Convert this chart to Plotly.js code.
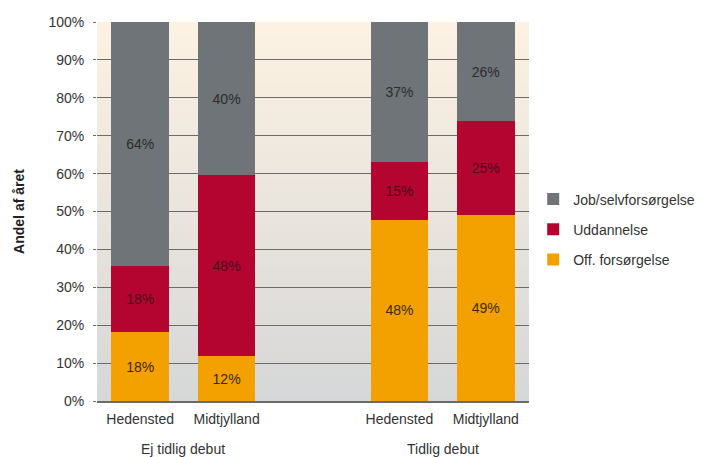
<!DOCTYPE html>
<html>
<head>
<meta charset="utf-8">
<script src="https://cdn.plot.ly/plotly-3.0.1.min.js"></script>
<style>html,body{margin:0;padding:0;background:#fff;}#chart{width:710px;height:457px;}</style>
</head>
<body>
<div id="chart"></div>
<script>
const positions = [0, 1, 3, 4];
const barLabels = ['Hedensted', 'Midtjylland', 'Hedensted', 'Midtjylland'];
const groupLabels = ['Ej tidlig debut', 'Tidlig debut'];
const offForsorgelse = [18.1, 11.8, 47.8, 49.2];
const uddannelse = [17.5, 47.8, 15.2, 24.6];
const jobSelv = [64.4, 40.4, 37.0, 26.2];
const textOff = ['18%', '12%', '48%', '49%'];
const textUdd = ['18%', '48%', '15%', '25%'];
const textJob = ['64%', '40%', '37%', '26%'];

const font = 'Liberation Sans, Arial, sans-serif';
function mk(name, y, txt, color, tcolor, rank) {
  return {
    type: 'bar', name: name, x: positions, y: y, text: txt,
    texttemplate: '%{text}', textposition: 'inside', insidetextanchor: 'middle',
    textfont: {family: font, size: 14, color: tcolor}, width: 0.665,
    marker: {color: color, line: {width: 0}}, legendgroup: 'g' + rank, legendrank: rank,
    hoverinfo: 'skip', constraintext: 'none'
  };
}
const data = [
  mk('Off. forsørgelse', offForsorgelse, textOff, '#f2a100', '#3d2a0a', 3),
  mk('Uddannelse', uddannelse, textUdd, '#b3052f', '#4a0d1c', 2),
  mk('Job/selvforsørgelse', jobSelv, textJob, '#6e7477', '#2c2c2c', 1)
];

// background gradient bands (cream to gray)
const shapes = [];
const N = 60;
const topCol = [253, 242, 226], botCol = [214, 215, 216];
for (let i = 0; i < N; i++) {
  const t = (i + 0.5) / N;
  const c = topCol.map((v, k) => Math.round(v + (botCol[k] - v) * t));
  shapes.push({type: 'rect', xref: 'paper', yref: 'paper', x0: 0, x1: 1,
    y1: 1 - i / N, y0: 1 - (i + 1) / N - 0.002, layer: 'below',
    fillcolor: 'rgb(' + c.join(',') + ')', line: {width: 0}});
}

const layout = {
  width: 710, height: 457,
  margin: {l: 97, r: 181, t: 22, b: 56},
  paper_bgcolor: '#ffffff', plot_bgcolor: 'rgba(0,0,0,0)',
  barmode: 'stack', bargap: 0,
  showlegend: true,
  font: {family: font, size: 14, color: '#333333'},
  xaxis: {
    range: [-0.5, 4.5], tickvals: positions, ticktext: barLabels,
    showgrid: false, zeroline: false, showline: true, linecolor: '#6a6a6a', linewidth: 1.5,
    ticks: '', ticklabelstandoff: 5, tickfont: {family: font, size: 14, color: '#333'}, fixedrange: true
  },
  yaxis: {
    range: [0, 100], dtick: 10, ticksuffix: '%',
    showgrid: true, gridcolor: '#6a6a6a', gridwidth: 1, zeroline: false,
    showline: false, ticks: 'outside', ticklen: 3, tickcolor: '#6a6a6a',
    ticklabelstandoff: 6,
    tickfont: {family: font, size: 14, color: '#333'},
    title: {text: '<b>Andel af året</b>', font: {family: font, size: 14, color: '#222'}, standoff: 20}
  },
  legend: {
    xref: 'container', yref: 'container',
    x: 0.751, xanchor: 'left', y: 0.5985, yanchor: 'top',
    traceorder: 'grouped', tracegroupgap: 9,
    font: {family: font, size: 14, color: '#333'},
    bgcolor: 'rgba(0,0,0,0)', itemwidth: 30
  },
  shapes: shapes,
  annotations: [
    {text: groupLabels[0], x: 0.5, y: 0, xref: 'x', yref: 'paper', yanchor: 'middle', yshift: -48, showarrow: false,
     font: {family: font, size: 14, color: '#333'}},
    {text: groupLabels[1], x: 3.5, y: 0, xref: 'x', yref: 'paper', yanchor: 'middle', yshift: -48, showarrow: false,
     font: {family: font, size: 14, color: '#333'}}
  ]
};
Plotly.newPlot('chart', data, layout, {displayModeBar: false, staticPlot: true});
</script>
</body>
</html>
